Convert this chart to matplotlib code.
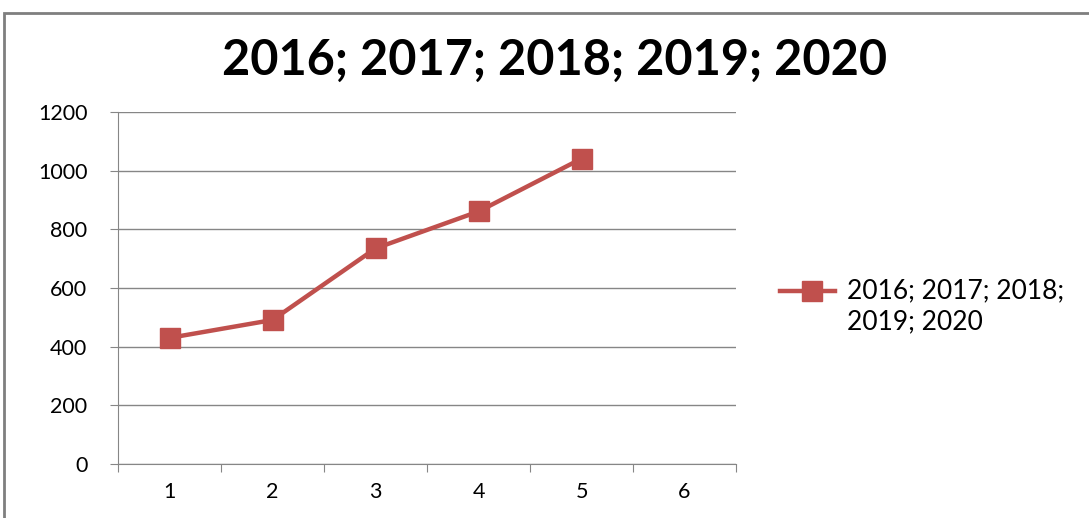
import matplotlib
matplotlib.use("Agg")
import matplotlib.pyplot as plt
from matplotlib.lines import Line2D
from matplotlib.patches import Rectangle

# data
categories = [1, 2, 3, 4, 5, 6]
values = [430, 491, 735, 861, 1041]
series_name = "2016; 2017; 2018; 2019; 2020"
legend_text = "2016; 2017; 2018;\n2019; 2020"

plt.rcParams["font.family"] = ["Lato", "DejaVu Sans"]

red = "#C0504D"
grey = "#868686"

fig = plt.figure(figsize=(10.89, 5.18), dpi=100)
ax = fig.add_axes([0.1084, 0.1042, 0.5675, 0.6796])

# outer chart border (right/bottom run off the picture)
fig.patches.append(Rectangle((0.004, -0.05), 1.2, 1.025, transform=fig.transFigure,
                             fill=False, edgecolor="#7f7f7f", linewidth=2))

ax.plot(categories[:len(values)], values, color=red, linewidth=3.2,
        marker="s", markersize=14, markerfacecolor=red, markeredgecolor=red)

ax.set_xlim(0.5, 6.5)
ax.set_ylim(0, 1200)
ax.set_yticks(range(0, 1201, 200))
ax.yaxis.grid(True, color=grey, linewidth=1)
ax.set_axisbelow(True)

# tick marks between categories, labels at category centres
ax.set_xticks([c - 0.5 for c in categories] + [categories[-1] + 0.5])
ax.set_xticklabels([])
ax.set_xticks(categories, minor=True)
ax.set_xticklabels([str(c) for c in categories], minor=True)
ax.tick_params(axis="x", which="major", length=6, color=grey, direction="out")
ax.tick_params(axis="x", which="minor", length=0, pad=13, labelsize=15.5)
ax.tick_params(axis="y", length=6, color=grey, pad=16, labelsize=15.5)

for s in ["top", "right"]:
    ax.spines[s].set_visible(False)
for s in ["left", "bottom"]:
    ax.spines[s].set_color(grey)

fig.text(0.509, 0.884, series_name, ha="center", va="center",
         fontsize=35, fontweight="bold")

# legend drawn by hand so the marker sits on the first line
leg_y = 0.438
fig.add_artist(Line2D([0.716, 0.767], [leg_y, leg_y], transform=fig.transFigure,
                      color=red, linewidth=3.2))
fig.add_artist(Line2D([0.746], [leg_y], transform=fig.transFigure,
                      color=red, marker="s", markersize=14, linestyle="none"))
fig.text(0.778, leg_y + 0.024, legend_text, ha="left", va="top", fontsize=19,
         linespacing=1.3)

fig.savefig("out.png", dpi=100)
